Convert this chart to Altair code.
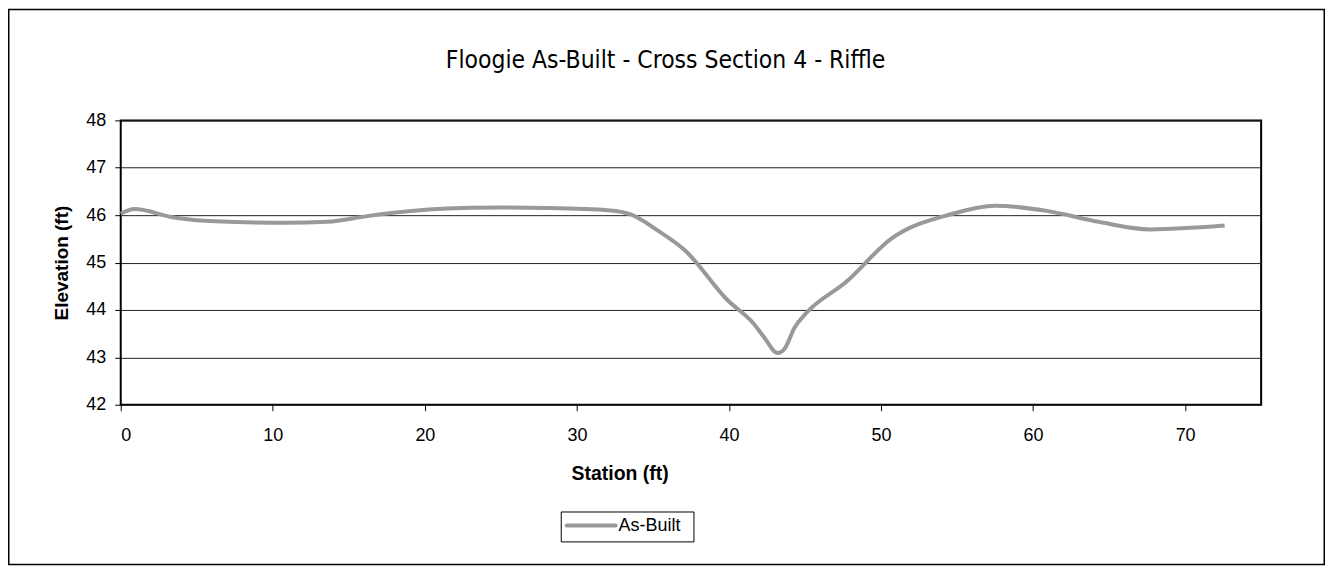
import altair as alt
import pandas as pd

station = [0, 0.9, 3.5, 6.2, 10.9, 13.6, 16.2, 18.6, 21.4, 24.8, 28.0, 32.2, 33.5,
           35.3, 37.1, 39.9, 41.6, 42.3, 43.2, 43.7, 44.3, 45.1, 47.7, 50.7, 54.6,
           57.5, 60.9, 64.3, 67.7, 72.6]
elevation = [46.03, 46.13, 45.95, 45.87, 45.84, 45.86, 45.98, 46.07, 46.14, 46.16,
             46.15, 46.10, 46.02, 45.68, 45.26, 44.21, 43.72, 43.43, 43.09, 43.20,
             43.62, 43.94, 44.59, 45.51, 46.02, 46.20, 46.09, 45.86, 45.70, 45.78]
series_name = "As-Built"
title_text = "Floogie As-Built - Cross Section 4 - Riffle"
x_ticks = [0, 10, 20, 30, 40, 50, 60, 70]
y_ticks = [42, 43, 44, 45, 46, 47, 48]

df = pd.DataFrame({"Station": station, "Elevation": elevation,
                   "Series": [series_name] * len(station)})

W, H = 1143, 285
PAD = {"left": 113, "top": 112, "right": 64, "bottom": 161}
LINE_COLOR = "#999999"
FONT = "Liberation Sans, Arial, sans-serif"

line = alt.Chart(df).mark_line(strokeWidth=4, interpolate="monotone",
                               color=LINE_COLOR).encode(
    x=alt.X("Station:Q",
            scale=alt.Scale(domain=[0, 75], nice=False),
            axis=alt.Axis(values=x_ticks, title="Station (ft)", grid=False,
                          domain=False, tickColor="black", tickSize=6,
                          labelFont=FONT, labelFontSize=18,
                          labelColor="black", labelPadding=16,
                          titleFont=FONT, titleFontSize=19.5,
                          titleFontWeight="bold", titleColor="black",
                          titleX=500, titleY=69, titleBaseline="middle")),
    y=alt.Y("Elevation:Q",
            scale=alt.Scale(domain=[42, 48], nice=False, zero=False),
            axis=alt.Axis(values=y_ticks, title="Elevation (ft)", grid=True,
                          gridColor="#222222", gridWidth=1,
                          domain=False, tickColor="black", tickSize=6,
                          labelFont=FONT, labelFontSize=18,
                          labelColor="black", labelPadding=9,
                          titleFont=FONT, titleFontSize=19,
                          titleFontWeight="bold", titleColor="black",
                          titleX=-59, titleY=H / 2, titleAngle=270,
                          titleAlign="center", titleBaseline="middle")),
)

one = pd.DataFrame({"name": [series_name]})

legend_box = alt.Chart(one).mark_rect(
    fill="white", stroke="black", strokeWidth=1
).encode(
    x=alt.value(441.5), x2=alt.value(574.5), y=alt.value(392.5), y2=alt.value(422.5)
)
legend_line = alt.Chart(one).mark_rule(
    color=LINE_COLOR, strokeWidth=4, strokeCap="round"
).encode(
    x=alt.value(447), x2=alt.value(496), y=alt.value(406)
)
legend_text = alt.Chart(one).mark_text(
    font=FONT, fontSize=18, color="black", align="left", baseline="middle"
).encode(
    text="name:N", x=alt.value(499), y=alt.value(407)
)

border = alt.Chart(pd.DataFrame({"k": [0]})).mark_rect(
    fill=None, stroke="black", strokeWidth=1.5
).encode(
    x=alt.value(-PAD["left"] + 0.75), y=alt.value(-PAD["top"] + 0.75),
    x2=alt.value(W + PAD["right"] - 0.75), y2=alt.value(H + PAD["bottom"] - 0.75),
)

title = alt.Chart(pd.DataFrame({"t": [title_text]})).mark_text(
    font="DejaVu Sans Condensed, sans-serif",
    fontSize=24.5, color="black", align="center", baseline="alphabetic"
).encode(
    text="t:N", x=alt.value(546), y=alt.value(-53)
)

chart = alt.layer(border, line, legend_box, legend_line, legend_text, title).properties(
    width=W, height=H, padding=PAD, autosize="none", background="white"
).configure_view(stroke="black", strokeWidth=2)

chart.save("out.html", embed_options={"renderer": "svg", "actions": False})
